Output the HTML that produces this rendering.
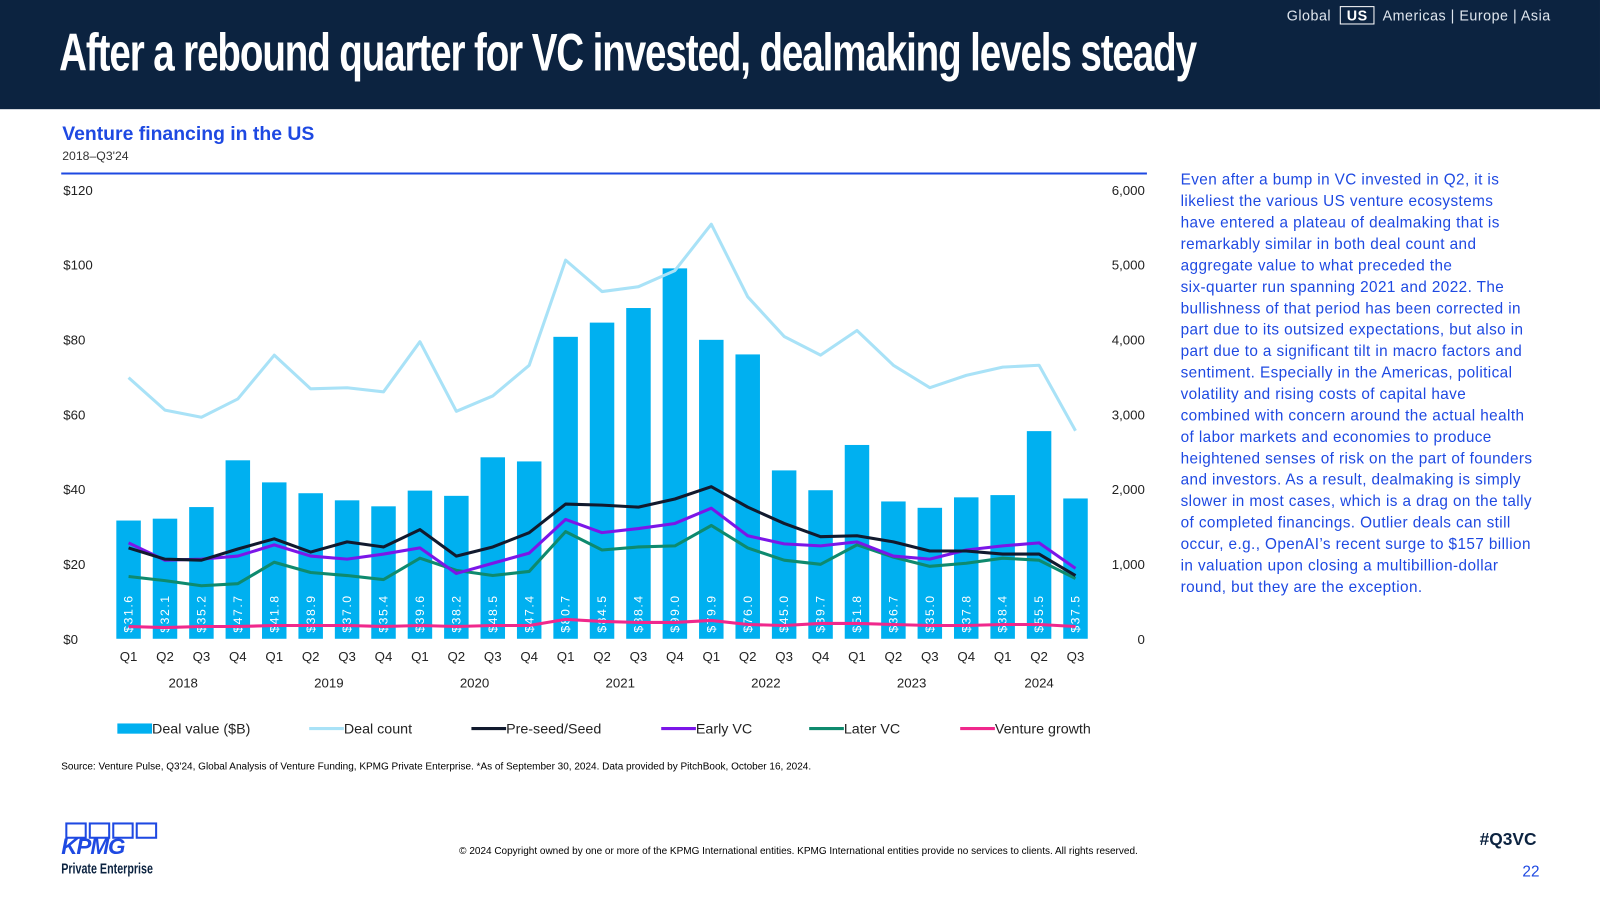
<!DOCTYPE html>
<html><head><meta charset="utf-8"><style>
body{margin:0;width:1600px;height:900px;background:#fff;font-family:"Liberation Sans",sans-serif;position:relative;overflow:hidden}
#wrap{position:absolute;left:0;top:0;width:1568px;height:882px;transform:scale(1.0204);transform-origin:0 0}
.hdr{position:absolute;left:0;top:0;width:1568px;height:107px;background:#0c2340}
.title{position:absolute;left:58px;top:22px;color:#fff;font-weight:bold;font-size:52px;letter-spacing:-1.5px;white-space:nowrap;transform:scaleX(0.727);transform-origin:0 0}
.nav{position:absolute;left:1261px;top:7px;color:#dfe6ee;font-size:14px;letter-spacing:0.5px}
.nav b{border:1.5px solid #fff;padding:0 6px;margin:0 4px;color:#fff}
.ctitle{position:absolute;left:61px;top:121px;color:#1e49e2;font-weight:bold;font-size:19px}
.csub{position:absolute;left:61px;top:146px;color:#333;font-size:12px}
.body{position:absolute;left:1157px;top:166px;white-space:nowrap;font-size:15px;line-height:21px;color:#1e49e2;letter-spacing:0.4px}
.src{position:absolute;left:60px;top:746px;font-size:9.8px;color:#000}
.copy{position:absolute;left:450px;top:829px;font-size:9.8px;color:#000}
.tag{position:absolute;left:1450px;top:813px;font-size:17px;font-weight:bold;color:#0c2340}
.pg{position:absolute;left:1492px;top:846px;font-size:15px;color:#1e49e2}
.logo{position:absolute;left:60px;top:806px;color:#1e49e2}
</style></head><body>
<div id="wrap">
<div class="hdr">
<div class="title">After a rebound quarter for VC invested, dealmaking levels steady</div>
<div class="nav">Global <b>US</b> Americas | Europe | Asia</div>
</div>
<div class="ctitle">Venture financing in the US</div>
<div class="csub">2018–Q3'24</div>
<div class="body">Even after a bump in VC invested in Q2, it is<br>likeliest the various US venture ecosystems<br>have entered a plateau of dealmaking that is<br>remarkably similar in both deal count and<br>aggregate value to what preceded the<br>six-quarter run spanning 2021 and 2022. The<br>bullishness of that period has been corrected in<br>part due to its outsized expectations, but also in<br>part due to a significant tilt in macro factors and<br>sentiment. Especially in the Americas, political<br>volatility and rising costs of capital have<br>combined with concern around the actual health<br>of labor markets and economies to produce<br>heightened senses of risk on the part of founders<br>and investors. As a result, dealmaking is simply<br>slower in most cases, which is a drag on the tally<br>of completed financings. Outlier deals can still<br>occur, e.g., OpenAI’s recent surge to $157 billion<br>in valuation upon closing a multibillion-dollar<br>round, but they are the exception.</div>
<svg id="chart" width="1568" height="882" style="position:absolute;left:0;top:0"></svg>
<div class="src">Source: Venture Pulse, Q3'24, Global Analysis of Venture Funding, KPMG Private Enterprise. *As of September 30, 2024. Data provided by PitchBook, October 16, 2024.</div>
<div class="copy">© 2024 Copyright owned by one or more of the KPMG International entities. KPMG International entities provide no services to clients. All rights reserved.</div>
<div class="tag">#Q3VC</div>
<div class="pg">22</div>
<div class="logo"><div style="display:flex;gap:2px;margin-left:4px"><span style="width:17px;height:12px;border:2px solid #1e49e2"></span><span style="width:17px;height:12px;border:2px solid #1e49e2"></span><span style="width:17px;height:12px;border:2px solid #1e49e2"></span><span style="width:17px;height:12px;border:2px solid #1e49e2"></span></div><div style="font-weight:bold;font-style:italic;font-size:22px;letter-spacing:-1px;line-height:20px;margin-top:-2px">KPMG</div><div style="font-weight:bold;font-size:14px;color:#0c2340;transform:scaleX(0.75);transform-origin:0 0;white-space:nowrap;margin-top:3px">Private Enterprise</div></div>
</div>
<script>
const quarters=["Q1","Q2","Q3","Q4","Q1","Q2","Q3","Q4","Q1","Q2","Q3","Q4","Q1","Q2","Q3","Q4","Q1","Q2","Q3","Q4","Q1","Q2","Q3","Q4","Q1","Q2","Q3"];
const years=["2018","2019","2020","2021","2022","2023","2024"];
const dealValue=[31.6,32.1,35.2,47.7,41.8,38.9,37.0,35.4,39.6,38.2,48.5,47.4,80.7,84.5,88.4,99.0,79.9,76.0,45.0,39.7,51.8,36.7,35.0,37.8,38.4,55.5,37.5];
const dealCount=[3490,3055,2960,3205,3790,3340,3355,3300,3970,3040,3245,3655,5060,4640,4705,4920,5540,4570,4040,3790,4120,3655,3355,3520,3630,3655,2780];
const preSeed=[1214,1064,1050,1200,1336,1159,1295,1227,1459,1105,1227,1418,1800,1786,1759,1868,2032,1759,1541,1364,1377,1295,1173,1173,1132,1132,845];
const earlyVC=[1282,1050,1064,1105,1255,1105,1064,1132,1214,873,1009,1145,1595,1418,1473,1541,1745,1377,1268,1241,1295,1105,1064,1186,1241,1282,941];
const laterVC=[832,777,709,736,1023,886,845,791,1077,914,845,900,1432,1186,1227,1241,1514,1214,1050,995,1255,1091,968,1009,1077,1050,805];
const growth=[164,150,164,164,177,177,177,164,177,164,177,177,259,232,218,218,245,191,177,205,205,191,177,177,191,191,164];
const leftTicks=[0,20,40,60,80,100,120];
const rightTicks=[0,1000,2000,3000,4000,5000,6000];
const svg=document.getElementById('chart');const NS='http://www.w3.org/2000/svg';
function mk(t,a,p){const e=document.createElementNS(NS,t);for(const k in a)e.setAttribute(k,a[k]);(p||svg).appendChild(e);return e;}
const y0=626,y1=186,x0=126,step=(1054-126)/26;
const yL=v=>y0-(v/120)*(y0-y1);const yR=v=>y0-(v/6000)*(y0-y1);const xQ=i=>x0+i*step;
const ln=mk('line',{x1:60,x2:1124,y1:170,y2:170,stroke:'#1e49e2','stroke-width':2});

leftTicks.forEach(v=>{const t=mk('text',{x:62,y:yL(v)+5,'font-size':13,fill:'#222'});t.textContent='$'+v;
});
rightTicks.forEach(v=>{const t=mk('text',{x:1122,y:yR(v)+5,'font-size':13,fill:'#222','text-anchor':'end'});t.textContent=v.toLocaleString('en-US');
});
dealValue.forEach((v,i)=>{const r=mk('rect',{x:xQ(i)-12,y:yL(v),width:24,height:y0-yL(v),fill:'#00b0f0'});

const t=mk('text',{x:0,y:0,'font-size':12,fill:'#fff',transform:`translate(${xQ(i)+4},${y0-6}) rotate(-90)`,'letter-spacing':'1.5'});t.textContent='$'+v.toFixed(1);
});
quarters.forEach((q,i)=>{const t=mk('text',{x:xQ(i),y:648,'font-size':13,fill:'#222','text-anchor':'middle'});t.textContent=q;
});
years.forEach((y,j)=>{const s=j*4,e=Math.min(s+3,26);const t=mk('text',{x:(xQ(s)+xQ(e))/2,y:674,'font-size':13,fill:'#222','text-anchor':'middle'});t.textContent=y;
});
const series=[[dealCount,'#a9e2f7','deal-count-line'],[laterVC,'#0e8a6e','later-vc-line'],[earlyVC,'#7b16e8','early-vc-line'],[preSeed,'#111a2e','pre-seed-line'],[growth,'#f0288c','venture-growth-line']];
series.forEach(([d,c,n])=>{const p=mk('polyline',{points:d.map((v,i)=>xQ(i)+','+yR(v)).join(' '),fill:'none',stroke:c,'stroke-width':3,'stroke-linejoin':'round'});
});
const leg=[['Deal value ($B)','#00b0f0',115,true],['Deal count','#a9e2f7',303],['Pre-seed/Seed','#111a2e',462],['Early VC','#7b16e8',648],['Later VC','#0e8a6e',793],['Venture growth','#f0288c',941]];
leg.forEach(([l,c,x,bar])=>{const g=mk('g',{});
if(bar)mk('rect',{x:x,y:709,width:34,height:10,fill:c},g);else mk('line',{x1:x,x2:x+34,y1:714,y2:714,stroke:c,'stroke-width':3},g);
const t=mk('text',{x:x+34,y:719,'font-size':14,fill:'#222'},g);t.textContent=l;});
</script>
</body></html>
